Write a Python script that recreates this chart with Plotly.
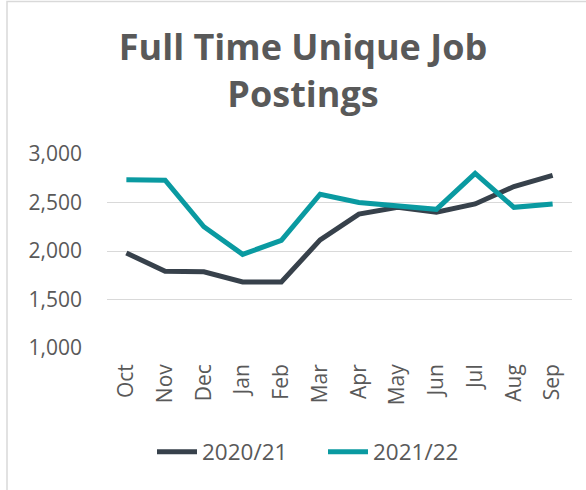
import plotly.graph_objects as go

months = ["Oct", "Nov", "Dec", "Jan", "Feb", "Mar", "Apr", "May", "Jun", "Jul", "Aug", "Sep"]
series_2020_21 = [1980, 1790, 1785, 1680, 1680, 2115, 2380, 2450, 2400, 2485, 2665, 2780]
series_2021_22 = [2735, 2730, 2250, 1965, 2110, 2585, 2500, 2465, 2430, 2800, 2450, 2485]
y_ticks = [1000, 1500, 2000, 2500, 3000]
y_tick_labels = ["1,000", "1,500", "2,000", "2,500", "3,000"]

W, H = 586, 490
L, R, T, B = 107, 14, 154, 142
pw, ph = W - L - R, H - T - B

fig = go.Figure()
fig.add_trace(go.Scatter(x=months, y=series_2020_21, mode="lines", name="2020/21",
                         line=dict(color="#37414B", width=5)))
fig.add_trace(go.Scatter(x=months, y=series_2021_22, mode="lines", name="2021/22",
                         line=dict(color="#0A9AA1", width=5)))

fig.update_layout(
    width=W, height=H,
    margin=dict(l=L, r=R, t=T, b=B, autoexpand=False),
    paper_bgcolor="white", plot_bgcolor="white",
    font=dict(family="Open Sans", color="#595959", size=21),
    title=dict(text="<b>Full Time Unique Job<br>Postings</b>",
               x=303 / W, xanchor="center", y=1 - 60 / H, yanchor="top",
               font=dict(family="Open Sans", size=36, color="#595959")),
    showlegend=True,
    legend=dict(orientation="h", x=323 / W, xref="container", xanchor="center",
                y=1 - 452 / H, yref="container", yanchor="middle",
                font=dict(size=22.5, color="#595959"), itemwidth=40,
                entrywidth=116, tracegroupgap=0),
    xaxis=dict(type="category", range=[-0.5, 11.5], tickangle=-90,
               showgrid=False, showline=False, ticks="", ticklabelstandoff=11,
               tickfont=dict(size=21, color="#595959")),
    yaxis=dict(range=[1000, 3000], tickvals=y_ticks, ticktext=y_tick_labels,
               showgrid=True, gridcolor="#D9D9D9", gridwidth=1.3, zeroline=False,
               showline=False, ticks="", ticklabelstandoff=24,
               tickfont=dict(size=21, color="#595959")),
    shapes=[dict(type="rect", xref="paper", yref="paper",
                 x0=(7 - L) / pw, x1=(W + 10 - L) / pw,
                 y0=(H - B - (H + 10)) / ph, y1=(H - B - 1.5) / ph,
                 line=dict(color="#D9D9D9", width=1.5), fillcolor="rgba(0,0,0,0)",
                 layer="below")],
)

fig.write_html("out.html", config={"displayModeBar": False},
               post_script="document.body.style.margin='0';document.body.style.overflow='hidden';")
